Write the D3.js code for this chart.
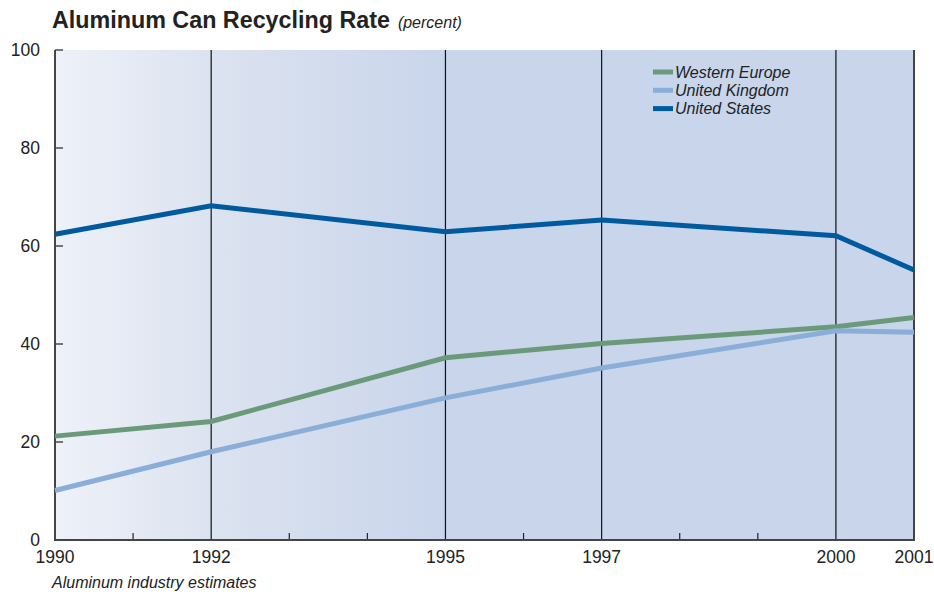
<!DOCTYPE html>
<html>
<head>
<meta charset="utf-8">
<script src="https://cdn.jsdelivr.net/npm/d3@7"></script>
<style>
  body { margin: 0; background: #fff; }
  svg { font-family: "Liberation Sans", Arial, sans-serif; }
</style>
</head>
<body>
<svg id="chart" width="934" height="595"></svg>
<script>
// data
const years = [1990, 1992, 1995, 1997, 2000, 2001]
const westernEurope = [21.2, 24.2, 37.2, 40.1, 43.5, 45.4]
const unitedKingdom = [10.1, 18.0, 29.0, 35.1, 42.7, 42.4]
const unitedStates = [62.4, 68.2, 62.9, 65.3, 62.1, 55.1]
const yTicks = [0, 20, 40, 60, 80, 100]
const minorYears = [1991, 1993, 1994, 1996, 1998, 1999]
const seriesNames = ["Western Europe", "United Kingdom", "United States"]
const seriesColors = ["#6b9a7b", "#8aaed7", "#005a9e"]

const svg = d3.select("#chart")
const plotLeft = 55, plotRight = 914, plotTop = 50, plotBottom = 540

const x = d3.scaleLinear().domain([1990, 2001]).range([plotLeft, plotRight])
const y = d3.scaleLinear().domain([0, 100]).range([plotBottom, plotTop])

// background gradient
const grad = svg.append("defs").append("linearGradient")
    .attr("id", "bg")
    .attr("gradientUnits", "userSpaceOnUse")
    .attr("x1", plotLeft).attr("x2", x(1995)).attr("y1", 0).attr("y2", 0)
grad.append("stop").attr("offset", 0).attr("stop-color", "#eef1f8")
grad.append("stop").attr("offset", 0.4).attr("stop-color", "#dce3f0")
grad.append("stop").attr("offset", 1).attr("stop-color", "#c9d5eb")

svg.append("rect")
    .attr("x", plotLeft).attr("y", plotTop)
    .attr("width", plotRight - plotLeft).attr("height", plotBottom - plotTop)
    .attr("fill", "url(#bg)")

// vertical lines at the data years
svg.selectAll("line.grid")
    .data(years.slice(1, -1))
    .enter()
    .append("line")
    .attr("class", "grid")
    .attr("x1", d => x(d)).attr("x2", d => x(d))
    .attr("y1", plotTop).attr("y2", plotBottom)
    .attr("stroke", "#111")
    .attr("stroke-width", 1.2)

// minor year ticks
svg.selectAll("line.minor")
    .data(minorYears)
    .enter()
    .append("line")
    .attr("class", "minor")
    .attr("x1", d => x(d)).attr("x2", d => x(d))
    .attr("y1", plotBottom).attr("y2", plotBottom - 7)
    .attr("stroke", "#222")
    .attr("stroke-width", 1.2)

// y ticks
svg.selectAll("line.ytick")
    .data(yTicks.slice(1))
    .enter()
    .append("line")
    .attr("class", "ytick")
    .attr("x1", plotLeft).attr("x2", plotLeft + 8)
    .attr("y1", d => y(d)).attr("y2", d => y(d))
    .attr("stroke", "#222")
    .attr("stroke-width", 1.2)

svg.selectAll("text.ylab")
    .data(yTicks)
    .enter()
    .append("text")
    .attr("class", "ylab")
    .attr("x", 40)
    .attr("y", d => y(d) + 6)
    .attr("text-anchor", "end")
    .attr("font-size", 17.5)
    .attr("fill", "#222")
    .text(d => d)

svg.selectAll("text.xlab")
    .data(years)
    .enter()
    .append("text")
    .attr("class", "xlab")
    .attr("x", d => x(d))
    .attr("y", plotBottom + 23)
    .attr("text-anchor", "middle")
    .attr("font-size", 17.5)
    .attr("fill", "#222")
    .text(d => d)

// axes frame
svg.append("path")
    .attr("d", `M${plotLeft},${plotTop}V${plotBottom}H${plotRight}V${plotTop}`)
    .attr("fill", "none")
    .attr("stroke", "#444")
    .attr("stroke-width", 2)

// lines
const line = d3.line()
    .x((d, i) => x(years[i]))
    .y(d => y(d))

const allSeries = [westernEurope, unitedKingdom, unitedStates]

svg.selectAll("path.series")
    .data(allSeries)
    .enter()
    .append("path")
    .attr("class", "series")
    .attr("d", line)
    .attr("fill", "none")
    .attr("stroke", (d, i) => seriesColors[i])
    .attr("stroke-width", 5)
    .attr("stroke-linejoin", "miter")

// legend
const legend = svg.selectAll("g.legend")
    .data(seriesNames)
    .enter()
    .append("g")
    .attr("class", "legend")
    .attr("transform", (d, i) => "translate(653," + (72 + i * 18.3) + ")")

legend.append("line")
    .attr("x1", 0).attr("x2", 20)
    .attr("stroke", (d, i) => seriesColors[i])
    .attr("stroke-width", 5)

legend.append("text")
    .attr("x", 22)
    .attr("y", 5.5)
    .attr("font-size", 16)
    .attr("font-style", "italic")
    .attr("fill", "#222")
    .text(d => d)

// titles
const title = svg.append("text")
    .attr("x", 52)
    .attr("y", 28)
    .attr("fill", "#222")
title.append("tspan")
    .attr("font-size", 23.3)
    .attr("font-weight", "bold")
    .text("Aluminum Can Recycling Rate")
title.append("tspan")
    .attr("font-size", 16)
    .attr("font-style", "italic")
    .attr("dx", 8)
    .text("(percent)")

svg.append("text")
    .attr("x", 52)
    .attr("y", 588)
    .attr("font-size", 16)
    .attr("font-style", "italic")
    .attr("fill", "#222")
    .text("Aluminum industry estimates")
</script>
</body>
</html>
